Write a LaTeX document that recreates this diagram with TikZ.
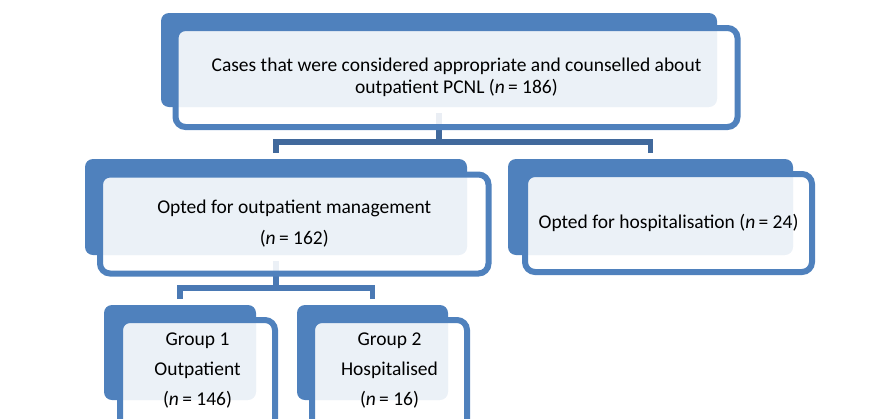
\documentclass[tikz,border=0pt]{standalone}
\usepackage{fontspec}
\setmainfont{Carlito}
\definecolor{boxblue}{HTML}{4F81BD}
\definecolor{connA}{HTML}{41699C}
\definecolor{connB}{HTML}{4A79B4}
\begin{document}
\begin{tikzpicture}[x=1pt,y=-1pt,
  backbox/.style={fill=boxblue,draw=none,rounded corners=8pt,inner sep=0pt,outer sep=0pt},
  frontbox/.style={draw=boxblue,line width=6pt,fill=white,fill opacity=0.89,text opacity=1,
    rounded corners=10pt,inner sep=0pt,outer sep=0pt,align=center,text=black},
  conn/.style={line width=5.5pt,line join=miter},
  txt/.style={align=center,inner sep=0pt,text=black}]
\useasboundingbox (0,0) rectangle (869,418);
\clip (0,0) rectangle (869,418);
\fontsize{19.5}{22}\selectfont
% back boxes
\node[backbox,minimum width=556pt,minimum height=94pt] (B0) at (439,60) {};
\node[backbox,minimum width=382pt,minimum height=96pt] (B1) at (276,207) {};
\node[backbox,minimum width=285pt,minimum height=96pt] (B2) at (650.5,207) {};
\node[backbox,minimum width=152pt,minimum height=95pt] (B3) at (180,352.5) {};
\node[backbox,minimum width=151pt,minimum height=95pt] (B4) at (372.5,352.5) {};
% connectors
\coordinate (J0) at (439,142);
\coordinate (J1) at (276,288);
\draw[conn,draw=connA] ([yshift=-6pt]B0.south) -- (J0);
\draw[conn,draw=connA] ([yshift=6pt]B1.north) |- (J0);
\draw[conn,draw=connA] ([yshift=6pt]B2.north) |- (J0);
\draw[conn,draw=connB] ([yshift=-6pt]B1.south) -- (J1);
\draw[conn,draw=connB] ([yshift=6pt]B3.north) |- (J1);
\draw[conn,draw=connB] ([yshift=6pt]B4.north) |- (J1);
% front boxes
\node[frontbox,minimum width=562pt,minimum height=99pt,font=\fontsize{19.5}{22}\selectfont] (F0) at (456.5,77.5)
  {Cases that were considered appropriate and counselled about\\outpatient PCNL (\textit{n}\,= 186)};
\node[frontbox,minimum width=388.5pt,minimum height=99pt,font=\fontsize{19.5}{31}\selectfont] (F1) at (294.25,224)
  {Opted for outpatient management\\(\textit{n}\,= 162)};
\node[frontbox,minimum width=287pt,minimum height=98pt,font=\fontsize{19.5}{22}\selectfont] (F2) at (668.5,223)
  {Opted for hospitalisation (\textit{n}\,= 24)};
\node[frontbox,minimum width=155pt,minimum height=120pt] (F3) at (197.5,380) {};
\node[frontbox,minimum width=155pt,minimum height=120pt] (F4) at (389.5,380) {};
\node[txt,font=\fontsize{19.5}{30}\selectfont] (T3) at (197.5,371) {Group 1\\Outpatient\\(\textit{n}\,= 146)};
\node[txt,font=\fontsize{19.5}{30}\selectfont] (T4) at (389.5,371) {Group 2\\Hospitalised\\(\textit{n}\,= 16)};
\end{tikzpicture}
\end{document}
